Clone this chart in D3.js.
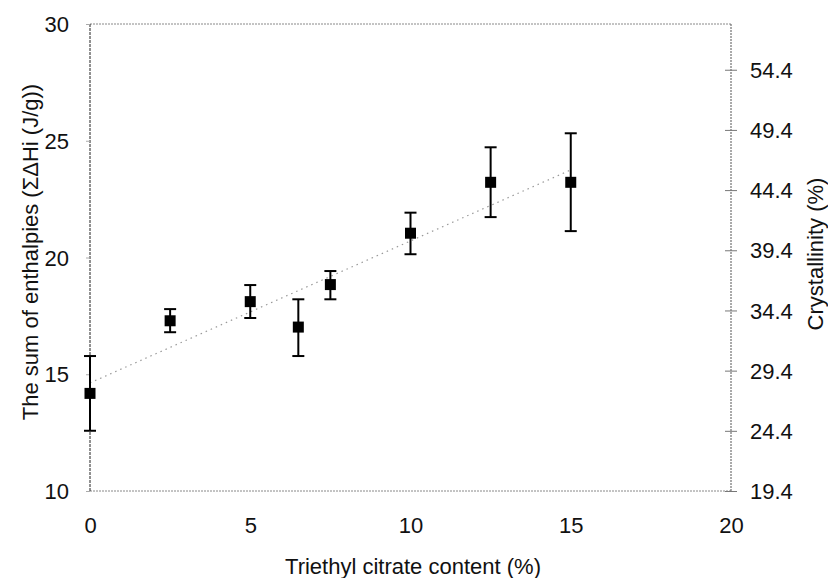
<!DOCTYPE html>
<html lang="en">
<head>
    <meta charset="UTF-8">
    <title>Enthalpy vs Triethyl citrate</title>
    <script src="https://d3js.org/d3.v7.min.js"></script>
    <style>
        body { margin: 0; background: #fff; }
        svg text { font-family: "Liberation Sans", Arial, sans-serif; fill: #111; }
    </style>
</head>
<body>
<svg width="828" height="578"></svg>
<script>
    // Data
    const tecContent = [0, 2.5, 5, 6.5, 7.5, 10, 12.5, 15];
    const enthalpySum = [14.18, 17.29, 18.11, 17.02, 18.84, 21.04, 23.22, 23.22];
    const errTop = [15.78, 17.79, 18.82, 18.21, 19.42, 21.92, 24.72, 25.32];
    const errBottom = [12.58, 16.80, 17.41, 15.78, 18.21, 20.14, 21.73, 21.13];
    // Trend line end points (x, y)
    const trendX = [0, 15];
    const trendY = [14.63, 23.75];

    const xTicks = [0, 5, 10, 15, 20];
    const leftTicks = [10, 15, 20, 25, 30];
    const rightTicks = [19.4, 24.4, 29.4, 34.4, 39.4, 44.4, 49.4, 54.4];

    const svg = d3.select("svg"),
        margin = { top: 24, right: 97, bottom: 87, left: 90 },
        width = +svg.attr("width") - margin.left - margin.right,
        height = +svg.attr("height") - margin.top - margin.bottom;

    const g = svg.append("g").attr("transform", `translate(${margin.left},${margin.top})`);

    const x = d3.scaleLinear().domain([0, 20]).range([0, width]);
    const y = d3.scaleLinear().domain([10, 30]).range([height, 0]);
    const y2 = d3.scaleLinear().domain([19.4, 58.2]).range([height, 0]);

    // frame (top / bottom / right dotted grey, left darker)
    g.append("line").attr("x1", 0).attr("x2", width).attr("y1", 0).attr("y2", 0)
        .attr("stroke", "#888").attr("stroke-dasharray", "2,1");
    g.append("line").attr("x1", 0).attr("x2", width).attr("y1", height).attr("y2", height)
        .attr("stroke", "#888").attr("stroke-dasharray", "2,1");
    g.append("line").attr("x1", width).attr("x2", width).attr("y1", 0).attr("y2", height)
        .attr("stroke", "#555").attr("stroke-dasharray", "2,1");
    g.append("line").attr("x1", 0).attr("x2", 0).attr("y1", 0).attr("y2", height)
        .attr("stroke", "#222").attr("stroke-dasharray", "3,1");

    // left axis
    const leftAxis = g.append("g")
        .call(d3.axisLeft(y).tickValues(leftTicks).tickSize(4).tickPadding(17).tickFormat(d3.format("d")));
    leftAxis.select(".domain").remove();
    leftAxis.selectAll(".tick line").attr("stroke", "#aaa");
    leftAxis.selectAll("text").style("font-size", "22px").attr("dy", "0.35em");

    // right axis with cross ticks
    const rightAxis = g.append("g").attr("transform", `translate(${width},0)`)
        .call(d3.axisRight(y2).tickValues(rightTicks).tickSize(0).tickPadding(19).tickFormat(d3.format(".1f")));
    rightAxis.select(".domain").remove();
    rightAxis.selectAll(".tick").append("line")
        .attr("x1", -6).attr("x2", 6).attr("stroke", "#777");
    rightAxis.selectAll("text").style("font-size", "22px").attr("dy", "0.35em");

    // bottom axis
    const bottomAxis = g.append("g").attr("transform", `translate(0,${height})`)
        .call(d3.axisBottom(x).tickValues(xTicks).tickSize(0).tickPadding(26));
    bottomAxis.select(".domain").remove();
    bottomAxis.selectAll("text").style("font-size", "22px");

    // trend line
    g.append("path")
        .attr("d", d3.line()(trendX.map((v, i) => [x(v), y(trendY[i])])))
        .attr("fill", "none").attr("stroke", "#999").attr("stroke-width", 1.2)
        .attr("stroke-dasharray", "1.5,4");

    const pts = tecContent.map((v, i) => ({ x: v, y: enthalpySum[i], hi: errTop[i], lo: errBottom[i] }));

    // error bars
    const eb = g.selectAll(".eb").data(pts).enter().append("g").attr("class", "eb")
        .attr("stroke", "#000").attr("stroke-width", 2);
    eb.append("line").attr("x1", d => x(d.x)).attr("x2", d => x(d.x))
        .attr("y1", d => y(d.hi)).attr("y2", d => y(d.lo));
    eb.append("line").attr("x1", d => x(d.x) - 6).attr("x2", d => x(d.x) + 6)
        .attr("y1", d => y(d.hi)).attr("y2", d => y(d.hi));
    eb.append("line").attr("x1", d => x(d.x) - 6).attr("x2", d => x(d.x) + 6)
        .attr("y1", d => y(d.lo)).attr("y2", d => y(d.lo));

    // square markers
    g.selectAll(".pt").data(pts).enter().append("rect").attr("class", "pt")
        .attr("x", d => x(d.x) - 5.5).attr("y", d => y(d.y) - 5.5)
        .attr("width", 11).attr("height", 11).attr("fill", "#000");

    // titles
    svg.append("text").attr("x", 413).attr("y", 574).attr("text-anchor", "middle")
        .style("font-size", "22px").text("Triethyl citrate content (%)");
    svg.append("text").attr("transform", "translate(38,252) rotate(-90)").attr("text-anchor", "middle")
        .style("font-size", "22px").text("The sum of enthalpies (ΣΔHi (J/g))");
    svg.append("text").attr("transform", "translate(823,254) rotate(-90)").attr("text-anchor", "middle")
        .style("font-size", "22px").text("Crystallinity (%)");
</script>
</body>
</html>
